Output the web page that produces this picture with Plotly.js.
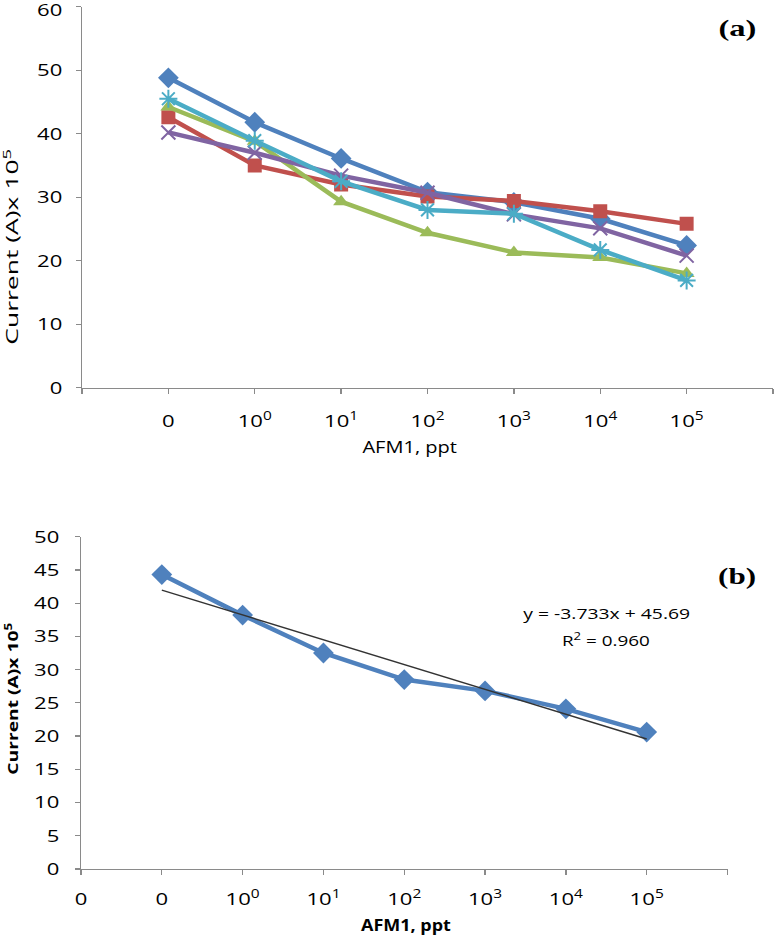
<!DOCTYPE html>
<html>
<head>
<meta charset="utf-8">
<script src="https://cdn.plot.ly/plotly-3.0.1.min.js"></script>
<style>html,body{margin:0;padding:0;background:#fff;} #chart{width:774px;height:938px;}</style>
</head>
<body>
<div id="chart"></div>
<script>
// Category labels (x positions 1..7 on a 0..8 axis)
const categories = ['0', '10<sup>0</sup>', '10<sup>1</sup>', '10<sup>2</sup>', '10<sup>3</sup>', '10<sup>4</sup>', '10<sup>5</sup>'];
const xPos = [1, 2, 3, 4, 5, 6, 7];

// Panel (a) series
const seriesBlue   = [48.8, 41.8, 36.1, 30.8, 29.2, 26.6, 22.4];
const seriesRed    = [42.6, 35.0, 32.0, 30.1, 29.4, 27.8, 25.8];
const seriesGreen  = [44.2, 38.8, 29.3, 24.4, 21.3, 20.5, 18.0];
const seriesPurple = [40.2, 37.0, 33.4, 30.7, 27.3, 25.1, 20.8];
const seriesCyan   = [45.5, 38.9, 32.5, 28.0, 27.4, 21.7, 16.9];

// Panel (b) series and linear trend
const seriesB = [44.3, 38.2, 32.5, 28.5, 26.8, 24.1, 20.6];
const trendSlope = -3.733;
const trendIntercept = 45.69;
const trendR2 = '0.960';

// tick labels
const tickPosA = [1, 2, 3, 4, 5, 6, 7];
const tickTextA = categories;
const tickPosB = [0, 1, 2, 3, 4, 5, 6, 7];
const tickTextB = ['0'].concat(categories);

const C = {blue:'#4F81BD', red:'#C0504D', green:'#9BBB59', purple:'#8064A2', cyan:'#4BACC6'};
const FONT = '"Open Sans", Lato, sans-serif';
const SERIF = '"Liberation Serif", "Times New Roman", serif';
const W = 774, H = 938;

function line(y, color, symbol, msize, mline, xa, ya) {
  const m = {symbol: symbol, size: msize, color: color};
  if (mline) m.line = {color: color, width: mline};
  return {x: xPos, y: y, type: 'scatter', mode: 'lines+markers', xaxis: xa, yaxis: ya,
    line: {color: color, width: 4.5}, marker: m, showlegend: false, hoverinfo: 'skip'};
}

const trendX = [xPos[0], xPos[xPos.length - 1]];
const trendY = trendX.map(v => trendSlope * v + trendIntercept);

const data = [
  line(seriesBlue, C.blue, 'diamond', 16, 0, 'x', 'y'),
  line(seriesRed, C.red, 'square', 14, 0, 'x', 'y'),
  line(seriesGreen, C.green, 'triangle-up', 14, 0, 'x', 'y'),
  line(seriesPurple, C.purple, 'x-thin-open', 14, 2, 'x', 'y'),
  line(seriesCyan, C.cyan, 'asterisk-open', 15, 2, 'x', 'y'),
  line(seriesB, C.blue, 'diamond', 16, 0, 'x2', 'y2'),
  {x: trendX, y: trendY, type: 'scatter', mode: 'lines', xaxis: 'x2', yaxis: 'y2',
   line: {color: '#333333', width: 1.5}, showlegend: false, hoverinfo: 'skip'}
];

const GRAY = '#8a8a8a';
const axisCommon = {showgrid: false, zeroline: false, showline: true, linecolor: GRAY, linewidth: 1.3,
  ticks: 'outside', ticklen: 5, tickcolor: GRAY, tickwidth: 1.3, automargin: false,
  ticklabeloverflow: 'allow',
  tickfont: {family: FONT, size: 17, color: '#000'}};
const minorX = {dtick: 1, tick0: 0, ticks: 'outside', ticklen: 5, tickcolor: GRAY, tickwidth: 1.3, showgrid: false};

function ann(x, y, text, size, opts) {
  return Object.assign({xref: 'paper', yref: 'paper', x: x / W, y: 1 - y / H, text: text, showarrow: false,
    xanchor: 'center', yanchor: 'middle', font: {family: FONT, size: size, color: '#000'}}, opts || {});
}

const layout = {
  width: W, height: H, margin: {l: 0, r: 0, t: 0, b: 0},
  paper_bgcolor: '#fff', plot_bgcolor: '#fff', showlegend: false,
  font: {family: FONT, color: '#000'},
  xaxis: Object.assign({}, axisCommon, {domain: [82 / W, 773 / W], range: [0, 8], tickmode: 'array',
    tickvals: tickPosA, ticktext: tickTextA, anchor: 'y', ticklabelstandoff: 13, minor: minorX}),
  yaxis: Object.assign({}, axisCommon, {domain: [1 - 387.7 / H, 1 - 6.7 / H], range: [0, 60], dtick: 10, anchor: 'x',
    ticklabelstandoff: 10}),
  xaxis2: Object.assign({}, axisCommon, {domain: [81 / W, 727.5 / W], range: [0, 8], tickmode: 'array',
    tickvals: tickPosB, ticktext: tickTextB, anchor: 'y2', ticklabelstandoff: 9, minor: minorX}),
  yaxis2: Object.assign({}, axisCommon, {domain: [1 - 869 / H, 1 - 536.7 / H], range: [0, 50], dtick: 5, anchor: 'x2',
    ticklabelstandoff: 12}),
  annotations: [
    ann(410, 447, 'AFM1, ppt', 16),
    ann(11, 247, 'Current (A)x 10<sup>5</sup>', 16, {textangle: -90}),
    ann(406, 925, '<b>AFM1, ppt</b>', 16),
    ann(11, 699, '<b>Current (A)x 10<sup>5</sup></b>', 15, {textangle: -90}),
    ann(737, 29, '<b>(a)</b>', 23, {font: {family: SERIF, size: 23, color: '#000'}}),
    ann(737, 576, '<b>(b)</b>', 23, {font: {family: SERIF, size: 23, color: '#000'}}),
    ann(606, 613, 'y = -3.733x + 45.69', 15),
    ann(606, 639, 'R<sup>2</sup> = ' + trendR2, 15)
  ]
};

// The reference's text is stretched along its writing direction: scale each text
// element horizontally in its own coordinate system around its anchor point.
function stretch(el, target, relative, dy) {
  try {
    const bb = el.getBBox();
    if (!bb || !bb.width) return;
    const f = relative ? target : target / bb.width;
    const anchor = el.getAttribute('text-anchor') || 'start';
    const ox = anchor === 'end' ? bb.x + bb.width : anchor === 'middle' ? bb.x + bb.width / 2 : bb.x;
    const prev = el.getAttribute('transform') || '';
    el.setAttribute('transform', (prev + ' translate(' + ox.toFixed(2) + ',' + (dy || 0) + ') scale(' + f.toFixed(4) + ',1) translate(' + (-ox).toFixed(2) + ',0)').trim());
  } catch (e) {}
}

Plotly.newPlot('chart', data, layout, {staticPlot: true, displayModeBar: false}).then(function (gd) {
  gd.querySelectorAll('.xtick text, .ytick text, .x2tick text, .y2tick text').forEach(el => {
    // top label of panel (a) sits at the page edge, as in the reference; keep it inside the page
    const nudge = (el.closest('.ytick') && el.textContent === '60') ? 3 : 0;
    stretch(el, 1.3, true, nudge);
  });
  const targets = [95, 196, 90, 152, 38, 38, 167, 88];
  gd.querySelectorAll('.annotation-text').forEach((el, i) => { if (targets[i]) stretch(el, targets[i], false); });
});
</script>
</body>
</html>
